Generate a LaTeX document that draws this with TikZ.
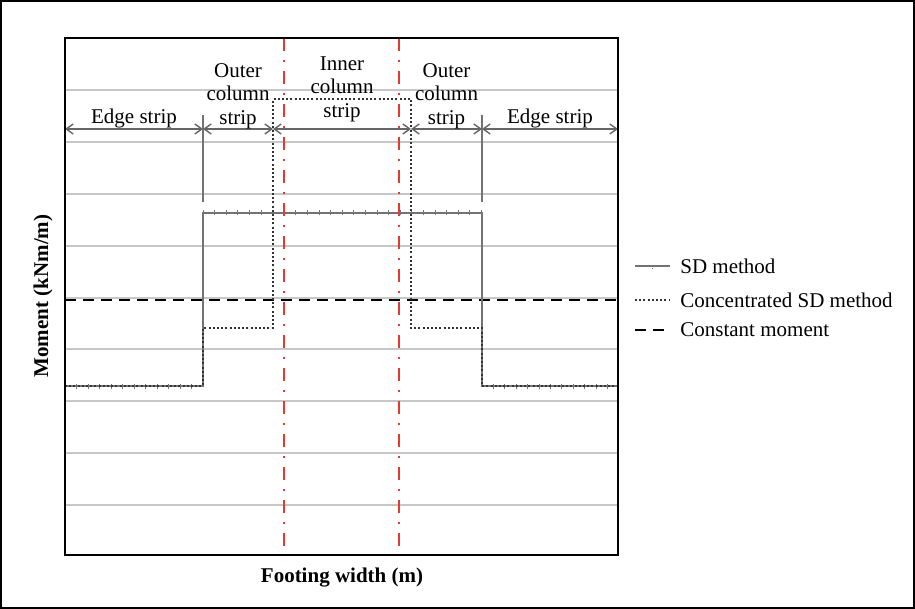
\documentclass[tikz,border=0pt]{standalone}
\usepackage{fontspec}
\setmainfont{Liberation Serif}
\usetikzlibrary{arrows.meta, positioning, calc}
\definecolor{centrered}{RGB}{228,58,48}

\begin{document}
\begin{tikzpicture}[
          x=0.5pt, y=-0.5pt,
          every node/.style={font=\fontsize{10.5}{11.6}\selectfont, inner sep=0pt},
          axis label/.style={font=\fontsize{10.5}{11.6}\selectfont\bfseries},
          plot frame/.style={draw=black, line width=0.8pt},
          grid line/.style={draw=black!22, line width=1pt},
          centre line/.style={draw=centrered, line width=1.4pt, dash pattern=on 6.5pt off 4.5pt on 1pt off 4.5pt},
          sd line/.style={draw=black!55, line width=1.1pt},
          sd tick/.style={draw=black!55, line width=0.5pt},
          conc line/.style={draw=black!80, line width=1.3pt, dash pattern=on 1pt off 1.1pt},
          const line/.style={draw=black, line width=1.4pt, dash pattern=on 5.5pt off 3.5pt},
          dim line/.style={draw=black!60, line width=0.7pt, {Straight Barb[length=3.5pt,width=5pt]}-{Straight Barb[length=3.5pt,width=5pt]}},
          strip label/.style={align=center, anchor=south},
          >=Stealth
        ]
        \useasboundingbox (0,0) rectangle (915,609);
        \draw[line width=0.8pt] (1,1) rectangle (914,608);

        % horizontal grid
        \foreach \y in {90.5,142.25,194,245.75,297.5,349.25,401,452.75,504.5}
          \draw[grid line] (65,\y) -- (618,\y);

        % constant moment
        \draw[const line] (65,300) -- (618,300);

        % SD method
        \draw[sd line] (65,386) -- (203,386) -- (203,213) -- (482,213) -- (482,386) -- (618,386);
        \foreach \i in {0,...,24}
          \draw[sd tick] ({203+11.6*\i},210.5) -- ++(0,5);
        \foreach \i in {1,...,11} {
          \draw[sd tick] ({65+11.5*\i},383.5) -- ++(0,5);
          \draw[sd tick] ({482+11.4*\i},383.5) -- ++(0,5);
        }
        \draw[sd line, line width=0.7pt] (203,115) -- (203,202);
        \draw[sd line, line width=0.7pt] (482,115) -- (482,202);

        % concentrated SD method
        \draw[conc line] (65,386) -- (203,386) -- (203,328) -- (273,328) -- (273,99)
          -- (411,99) -- (411,328) -- (482,328) -- (482,386) -- (618,386);

        % column centre lines
        \draw[centre line] (284,38) -- (284,555);
        \draw[centre line] (399,38) -- (399,555);

        % strip widths
        \coordinate (d0) at (65,129);
        \coordinate (d1) at (203,129);
        \coordinate (d2) at (273,129);
        \coordinate (d3) at (411,129);
        \coordinate (d4) at (482,129);
        \coordinate (d5) at (618,129);
        \draw[dim line] (d0) -- (d1);
        \draw[dim line] (d1) -- (d2);
        \draw[dim line] (d2) -- (d3);
        \draw[dim line] (d3) -- (d4);
        \draw[dim line] (d4) -- (d5);
        \node[strip label] (edgeL) at ($(d0)!0.5!(d1)+(0,-1)$) {Edge strip};
        \node[strip label] (outerL) at ($(d1)!0.5!(d2)+(0,0)$) {Outer\\column\\strip};
        \node[strip label] (inner) at ($(d2)!0.5!(d3)+(0,-7)$) {Inner\\column\\strip};
        \node[strip label] (outerR) at ($(d3)!0.5!(d4)+(0,0)$) {Outer\\column\\strip};
        \node[strip label] (edgeR) at ($(d4)!0.5!(d5)+(0,-1)$) {Edge strip};

        \draw[plot frame] (65,38) rectangle (618,555);

        % axis labels
        \node[axis label, rotate=90] (ylab) at (43,296) {Moment (kNm/m)};
        \node[axis label] (xlab) at (342,578) {Footing width (m)};

        % legend
        \node[anchor=west] (legSD) at (680,266) {SD method};
        \node[anchor=west] (legConc) at (680,300) {Concentrated SD method};
        \node[anchor=west] (legConst) at (680,330) {Constant moment};
        \draw[sd line] ([xshift=-22.5pt]legSD.west) -- ([xshift=-5pt]legSD.west);
        \draw[sd tick] ([xshift=-13.75pt,yshift=-1.2pt]legSD.west) -- ++(0,-0.5);
        \draw[conc line] ([xshift=-22.5pt]legConc.west) -- ([xshift=-5pt]legConc.west);
        \draw[const line] ([xshift=-22.5pt]legConst.west) -- ([xshift=-5pt]legConst.west);
\end{tikzpicture}
\end{document}
